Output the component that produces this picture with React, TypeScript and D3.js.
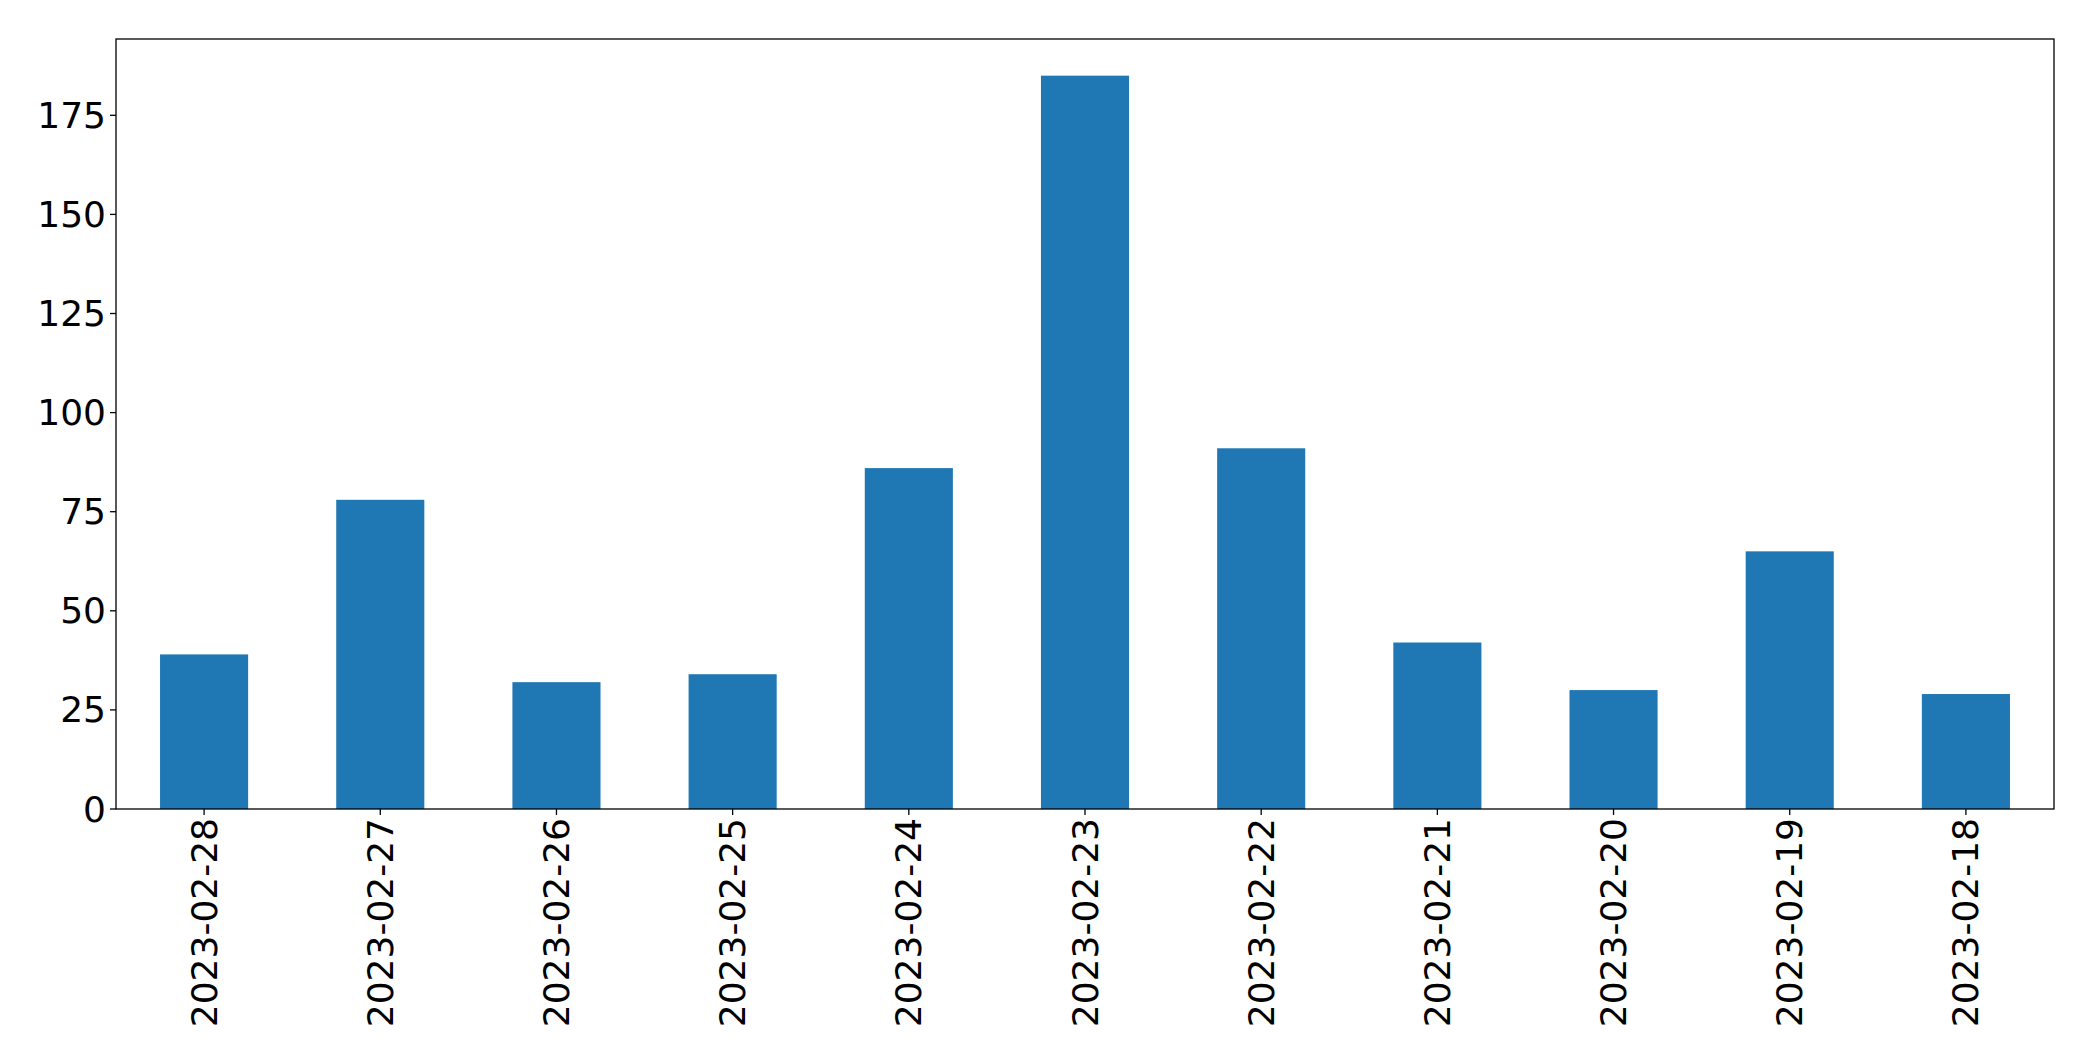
import React, { useRef, useEffect } from "react";
import * as d3 from "d3";

const dates = [
  "2023-02-28", "2023-02-27", "2023-02-26", "2023-02-25", "2023-02-24", "2023-02-23",
  "2023-02-22", "2023-02-21", "2023-02-20", "2023-02-19", "2023-02-18",
];
const counts = [39, 78, 32, 34, 86, 185, 91, 42, 30, 65, 29];
const yTicks = [0, 25, 50, 75, 100, 125, 150, 175];

const W = 2093;
const H = 1061;
const margin = { left: 116, right: 39, top: 39, bottom: 252 };

export default function App() {
  const svgRef = useRef<SVGSVGElement>(null);

  useEffect(() => {
    const svg = d3.select(svgRef.current);
    svg.selectAll("*").remove();

    const x0 = margin.left;
    const x1 = W - margin.right;
    const y0 = H - margin.bottom;
    const y1 = margin.top;

    // matplotlib-like: xlim -0.5..n-0.5, bar width 0.5
    const x = d3.scaleLinear().domain([-0.5, dates.length - 0.5]).range([x0, x1]);
    const yMax = d3.max(counts)! * 1.05;
    const y = d3.scaleLinear().domain([0, yMax]).range([y0, y1]);
    const font = "DejaVu Sans, sans-serif";
    const fs = 36;

    svg.append("g")
      .selectAll("rect")
      .data(counts)
      .enter()
      .append("rect")
      .attr("x", (d, i) => x(i - 0.25))
      .attr("width", x(0.25) - x(-0.25))
      .attr("y", (d) => y(d))
      .attr("height", (d) => y(0) - y(d))
      .attr("fill", "#1f77b4");

    // frame
    svg.append("rect")
      .attr("x", x0)
      .attr("y", y1)
      .attr("width", x1 - x0)
      .attr("height", y0 - y1)
      .attr("fill", "none")
      .attr("stroke", "black")
      .attr("stroke-width", 1.3);

    // y ticks
    const yg = svg.append("g");
    yTicks.forEach((t) => {
      yg.append("line")
        .attr("x1", x0 - 6).attr("x2", x0)
        .attr("y1", y(t)).attr("y2", y(t))
        .attr("stroke", "black").attr("stroke-width", 1.3);
      yg.append("text")
        .attr("x", x0 - 10)
        .attr("y", y(t))
        .attr("text-anchor", "end")
        .attr("dominant-baseline", "central")
        .attr("font-family", font)
        .attr("font-size", fs)
        .text(t);
    });

    // x ticks
    const xg = svg.append("g");
    dates.forEach((d, i) => {
      xg.append("line")
        .attr("x1", x(i)).attr("x2", x(i))
        .attr("y1", y0).attr("y2", y0 + 6)
        .attr("stroke", "black").attr("stroke-width", 1.3);
      xg.append("text")
        .attr("transform", "translate(" + x(i) + "," + (y0 + 9) + ") rotate(-90)")
        .attr("text-anchor", "end")
        .attr("dominant-baseline", "central")
        .attr("font-family", font)
        .attr("font-size", fs)
        .text(d);
    });
  }, []);

  return (
    <div style={{ position: "absolute", left: 0, top: 0 }}>
      <svg ref={svgRef} width={W} height={H} style={{ display: "block", background: "white" }}></svg>
    </div>
  );
}
